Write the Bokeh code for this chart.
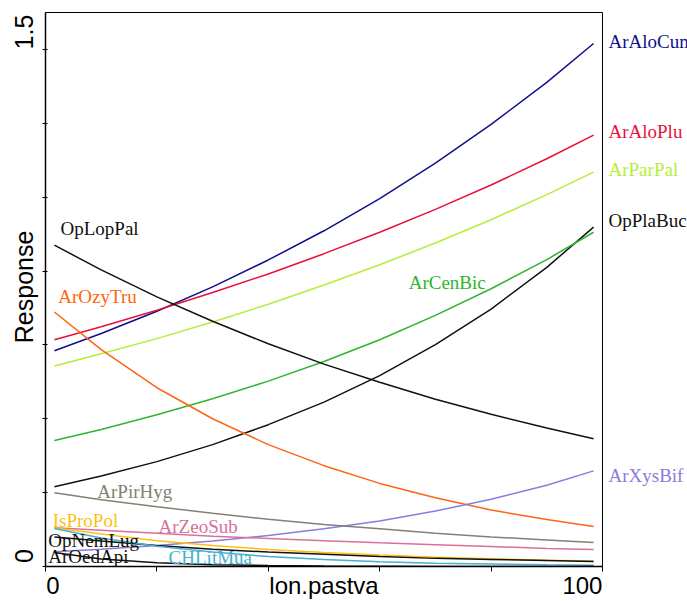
from bokeh.plotting import figure
from bokeh.layouts import row
from bokeh.models import Label, FixedTicker, LinearAxis
from bokeh.core.properties import value
from bokeh.embed import file_html
from bokeh.resources import INLINE

# ---- data ----
x_vals = [1.6, 10, 20, 30, 40, 50, 60, 70, 80, 90, 98.4]

ArAloCum = [0.584, 0.631, 0.691, 0.757, 0.830, 0.909, 0.996, 1.092, 1.197, 1.311, 1.416]
ArAloPlu = [0.614, 0.649, 0.694, 0.742, 0.792, 0.847, 0.905, 0.967, 1.033, 1.104, 1.168]
ArParPal = [0.543, 0.576, 0.617, 0.662, 0.710, 0.762, 0.817, 0.876, 0.939, 1.007, 1.068]
OpPlaBuc = [0.216, 0.245, 0.284, 0.330, 0.384, 0.445, 0.517, 0.601, 0.697, 0.810, 0.919]
ArCenBic = [0.341, 0.371, 0.411, 0.454, 0.502, 0.555, 0.614, 0.680, 0.752, 0.831, 0.905]
OpLopPal = [0.870, 0.803, 0.730, 0.664, 0.603, 0.548, 0.499, 0.453, 0.412, 0.375, 0.346]
ArOzyTru = [0.689, 0.587, 0.484, 0.400, 0.330, 0.273, 0.225, 0.186, 0.153, 0.127, 0.108]
ArXysBif = [0.040, 0.047, 0.057, 0.069, 0.084, 0.102, 0.123, 0.150, 0.182, 0.220, 0.259]
ArPirHyg = [0.200, 0.181, 0.162, 0.144, 0.128, 0.114, 0.102, 0.090, 0.080, 0.072, 0.065]
ArZeoSub = [0.105, 0.098, 0.090, 0.082, 0.076, 0.070, 0.064, 0.059, 0.054, 0.049, 0.046]
IsProPol = [0.105, 0.088, 0.070, 0.057, 0.046, 0.038, 0.031, 0.025, 0.021, 0.017, 0.015]
OpNemLug = [0.080, 0.069, 0.057, 0.047, 0.039, 0.033, 0.027, 0.022, 0.019, 0.016, 0.0135]
CHLitMua = [0.103, 0.077, 0.055, 0.039, 0.027, 0.019, 0.013, 0.009, 0.0065, 0.0045, 0.0033]
ArOedApi = [0.038, 0.020, 0.010, 0.005, 0.0025, 0.0012, 0.0006, 0.0003, 0.0001, 0.0001, 0.0]

series = {
    "ArAloCum": ArAloCum, "ArAloPlu": ArAloPlu, "ArParPal": ArParPal,
    "OpPlaBuc": OpPlaBuc, "ArCenBic": ArCenBic, "OpLopPal": OpLopPal,
    "ArOzyTru": ArOzyTru, "ArXysBif": ArXysBif, "ArPirHyg": ArPirHyg,
    "ArZeoSub": ArZeoSub, "IsProPol": IsProPol, "OpNemLug": OpNemLug,
    "CHLitMua": CHLitMua, "ArOedApi": ArOedApi,
}

x_ticks = [0, 20, 40, 60, 80, 100]
y_ticks = [0, 0.2, 0.4, 0.6, 0.8, 1.0, 1.2, 1.4]
x_texts = ["0", "lon.pastva", "100"]
y_texts = ["0", "Response", "1.5"]

# ---- styles / positions ----
colors = {
    "ArAloCum": "#10108C", "ArAloPlu": "#E8103A", "ArParPal": "#B4EE3A",
    "OpPlaBuc": "#111111", "ArCenBic": "#2DB52D", "OpLopPal": "#111111",
    "ArOzyTru": "#FF6410", "ArXysBif": "#8B7BDB", "ArPirHyg": "#857F70",
    "ArZeoSub": "#D9709A", "IsProPol": "#FFBF10", "OpNemLug": "#111111",
    "CHLitMua": "#45B0D0", "ArOedApi": "#111111",
}
inner_labels = {
    "OpLopPal": (2.7, 0.914), "ArOzyTru": (2.3, 0.730), "ArCenBic": (65.2, 0.768),
    "ArPirHyg": (9.3, 0.203), "IsProPol": (1.3, 0.124), "ArZeoSub": (20.3, 0.108),
    "OpNemLug": (0.5, 0.070), "ArOedApi": (0.5, 0.027), "CHLitMua": (22.1, 0.024),
}
right_labels = {
    "ArAloCum": 1.422, "ArAloPlu": 1.178, "ArParPal": 1.076,
    "OpPlaBuc": 0.938, "ArXysBif": 0.246,
}
x_text_pos = [1.35, 50, 96.4]
y_text_pos = [0.028, 0.757, 1.447]

TOP, BOTTOM = 12, 34
p = figure(width=604, height=601, x_range=(0, 100), y_range=(0, 1.5),
           output_backend="svg", toolbar_location=None,
           min_border_left=45, min_border_right=2, min_border_top=TOP, min_border_bottom=BOTTOM)
p.grid.visible = False
p.outline_line_color = "black"
p.outline_line_width = 1

for ax, ticks in ((p.xaxis[0], x_ticks), (p.yaxis[0], y_ticks)):
    ax.ticker = FixedTicker(ticks=ticks)
    ax.major_label_overrides = {t: "" for t in ticks}
    ax.major_label_text_font_size = "0px"
    ax.major_label_standoff = 0
    ax.minor_tick_line_color = None
    ax.axis_line_color = "black"
    ax.axis_line_width = 1.5
    ax.major_tick_line_color = "black"
p.xaxis[0].major_tick_in = 0
p.xaxis[0].major_tick_out = 5
p.yaxis[0].major_tick_in = 2
p.yaxis[0].major_tick_out = 3

def text_axis(ticks, texts, standoff, orient, size):
    a = LinearAxis(ticker=FixedTicker(ticks=ticks),
                   major_label_overrides={t: s for t, s in zip(ticks, texts)})
    a.axis_line_color = None
    a.major_tick_line_color = None
    a.minor_tick_line_color = None
    a.major_tick_in = 0
    a.major_tick_out = 0
    a.major_label_standoff = standoff
    a.major_label_text_font = "Liberation Sans"
    a.major_label_text_font_size = size
    a.major_label_text_color = "black"
    a.major_label_orientation = orient
    return a

p.add_layout(text_axis(x_text_pos, x_texts, 0, "horizontal", "24px"), "below")
p.add_layout(text_axis(y_text_pos, y_texts, 4, "parallel", "25px"), "left")

for name, ys in series.items():
    p.line(x_vals, ys, line_color=colors[name], line_width=1.5)

for name, (lx, ly) in inner_labels.items():
    p.add_layout(Label(x=lx, y=ly, text=name, text_color=colors[name],
                       text_font="Liberation Serif", text_font_size="19px",
                       text_align="left", text_baseline="middle"))

# right margin panel with the end-of-curve labels, sharing the y scale
p2 = figure(width=83, height=601, x_range=(0, 83), y_range=p.y_range,
            output_backend="svg", toolbar_location=None,
            x_axis_location=None, y_axis_location=None,
            min_border_left=0, min_border_right=0, min_border_top=TOP, min_border_bottom=BOTTOM)
p2.grid.visible = False
p2.outline_line_color = None
rn = list(right_labels.keys())
p2.text(x=[4] * len(rn), y=[right_labels[n] for n in rn], text=rn,
        text_color=[colors[n] for n in rn], text_font=value("Liberation Serif"),
        text_font_size="19px", text_align="left", text_baseline="middle")

layout = row(p, p2, spacing=0)
open("out.html", "w").write(file_html(layout, INLINE))
